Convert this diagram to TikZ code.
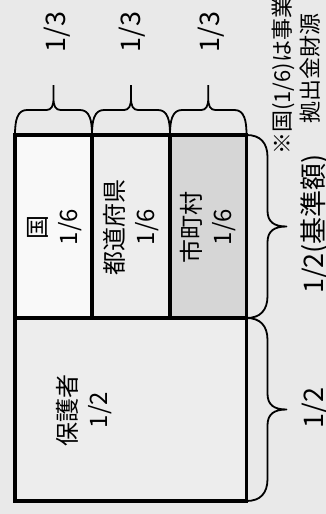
\documentclass[tikz,border=0pt]{standalone}
\usepackage{fontspec}
\setmainfont{Noto Sans CJK JP}
\definecolor{bgc}{HTML}{E9E9E9}
\definecolor{fillA}{HTML}{F9F9F9}
\definecolor{fillB}{HTML}{EDEDED}
\definecolor{fillC}{HTML}{D6D6D6}
\definecolor{fillD}{HTML}{EDEDED}
\tikzset{
  frame/.style={draw=black, line width=3.5pt},
  brc/.style={draw=black, line width=1.8pt, line join=round},
  lbl/.style={font=\fontsize{27}{30}\selectfont, rotate=90, inner sep=0pt},
  boxtxt/.style={font=\fontsize{24}{31}\selectfont, rotate=90, align=center, inner sep=0pt},
  notetxt/.style={font=\fontsize{22}{26}\selectfont, rotate=90, anchor=west, inner sep=0pt},
}
\newcommand\mybraceH[3]{% x0 x1 base (pointing up)
  \pgfmathsetmacro\mm{(#1+#2)/2}
  \draw[brc] (#1,#3) .. controls (#1,#3-14) and (#1+2,#3-25) .. (#1+12,#3-25) -- (\mm-7,#3-25)
     .. controls (\mm-2,#3-25) and (\mm,#3-29) .. (\mm,#3-37) -- (\mm,#3-50)
     (\mm,#3-37) .. controls (\mm,#3-29) and (\mm+2,#3-25) .. (\mm+7,#3-25) -- (#2-12,#3-25)
     .. controls (#2-2,#3-25) and (#2,#3-14) .. (#2,#3);
}
\newcommand\mybraceV[3]{% y0 y1 base (pointing right)
  \pgfmathsetmacro\mm{(#1+#2)/2}
  \draw[brc] (#3,#1) .. controls (#3+14,#1) and (#3+21,#1+8) .. (#3+21,#1+22) -- (#3+21,\mm-16)
     .. controls (#3+21,\mm-5) and (#3+27,\mm) .. (#3+40,\mm)
     .. controls (#3+27,\mm) and (#3+21,\mm+5) .. (#3+21,\mm+16) -- (#3+21,#2-22)
     .. controls (#3+21,#2-8) and (#3+14,#2) .. (#3,#2);
}
\begin{document}
\begin{tikzpicture}[x=1pt,y=-1pt]
\useasboundingbox (0,0) rectangle (326,514);
\fill[bgc] (0,0) rectangle (326,514);
% fills
\fill[fillA] (15,135) rectangle (92,318);
\fill[fillB] (92,135) rectangle (170,318);
\fill[fillC] (170,135) rectangle (246.5,318);
\fill[fillD] (15,318) rectangle (246.5,501);
% braces
\mybraceH{15}{92}{135}
\mybraceH{92}{170}{135}
\mybraceH{170}{246.5}{135}
\mybraceV{135}{318}{246.5}
\mybraceV{318}{501}{246.5}
% frame
\draw[frame] (15,135) rectangle (246.5,501);
\draw[frame] (15,318) -- (246.5,318);
\draw[frame] (92,135) -- (92,318);
\draw[frame] (170,135) -- (170,318);
% box texts
\node[boxtxt] (kuni) at (55,227) {国\\1/6};
\node[boxtxt] (todo) at (131,227) {都道府県\\1/6};
\node[boxtxt] (shi) at (208,227) {市町村\\1/6};
\node[boxtxt] (hogo) at (84,410) {保護者\\1/2};
% labels
\node[lbl] (t1) at (57,32) {1/3};
\node[lbl] (t2) at (132,32) {1/3};
\node[lbl] (t3) at (211,32) {1/3};
\node[lbl] (r1) at (315,224) {1/2(基準額)};
\node[lbl] (r2) at (315,408) {1/2};
\node[notetxt] (note1) at (283,155) {※国(1/6)は事業};
\node[notetxt] (note2) at (310,124) {拠出金財源};
\end{tikzpicture}
\end{document}
